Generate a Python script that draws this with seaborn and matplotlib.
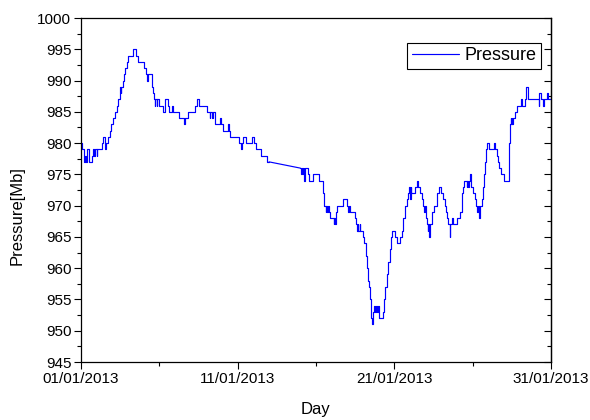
import pandas as pd
import matplotlib
matplotlib.use("Agg")
import matplotlib.pyplot as plt
import matplotlib.dates as mdates
from matplotlib.ticker import MultipleLocator
from matplotlib.lines import Line2D
import seaborn as sns

START = pd.Timestamp("2013-01-01 00:00")

# Logged pressure [Mb]: hour since start of month and the reading from that hour on
hours_a = [0, 2, 5, 6, 7, 9, 12, 17, 19, 20, 21, 24, 25, 32, 34, 36, 37, 38, 42, 44,
           46, 49, 52, 55, 57, 59, 60, 61, 62, 65, 66, 68, 71, 72, 80, 85, 88, 96, 100, 101,
           102, 108, 109, 111, 112, 113, 114, 116, 117, 119, 125, 129, 133, 135, 139, 141, 150, 158, 160, 164,
           174, 177, 181, 193, 197, 198, 200, 202, 205, 213, 214, 218, 225, 227, 229, 242, 245, 246, 248, 252,
           262, 265, 268, 276, 285, 288]
pressure_a = [980, 979, 977, 978, 977, 979, 977, 978, 979, 978, 979, 978, 979, 980, 981, 980, 979, 980, 981, 982,
              983, 984, 985, 986, 987, 988, 989, 988, 989, 990, 991, 992, 993, 994, 995, 994, 993, 992, 991, 990,
              991, 990, 989, 988, 987, 986, 987, 986, 987, 986, 985, 987, 986, 985, 986, 985, 984, 983, 984, 985,
              986, 987, 986, 985, 984, 985, 984, 985, 983, 984, 983, 982, 983, 982, 981, 980, 979, 980, 981, 980,
              981, 980, 979, 978, 977, 977]

# Logging resumes after a two-day outage
hours_b = [336, 337, 338, 340, 341, 342, 343, 348, 350, 356, 364, 371, 372, 373, 375, 376, 377, 378, 380, 382,
           387, 388, 389, 390, 391, 392, 401, 408, 409, 410, 412, 419, 421, 423, 424, 425, 427, 428, 432, 434,
           436, 438, 439, 441, 443, 444, 445, 446, 448, 449, 450, 452, 453, 455, 456, 462, 464, 466, 468, 470,
           473, 475, 477, 481, 484, 489, 491, 493, 494, 496, 497, 499, 501, 503, 504, 505, 506, 512, 514, 517,
           520, 522, 524, 526, 527, 528, 529, 530, 531, 532, 533, 534, 535, 537, 540, 545, 549, 552, 555, 558,
           559, 560, 562, 565, 566, 569, 570, 576, 580, 583, 585, 587, 591, 592, 593, 595, 596, 598, 600, 604,
           605, 607, 608, 609, 611, 614, 616, 617, 619, 620, 622, 625, 632, 634, 637, 639, 641, 644, 648, 655,
           656, 657, 658, 659, 660, 661, 662, 665, 668, 674, 676, 680, 682, 684, 685, 701, 702, 705, 708, 710,
           714, 716, 720]
pressure_b = [976, 975, 976, 975, 976, 974, 976, 975, 974, 975, 974, 972, 971, 970, 969, 970, 969, 970, 969, 968,
              967, 968, 967, 968, 969, 970, 971, 970, 969, 970, 969, 968, 967, 966, 967, 966, 967, 966, 965, 964,
              962, 960, 958, 957, 955, 953, 952, 951, 953, 954, 953, 954, 953, 954, 952, 953, 955, 957, 959, 961,
              963, 965, 966, 965, 964, 965, 966, 967, 968, 969, 970, 971, 972, 973, 971, 973, 972, 973, 974, 973,
              972, 971, 970, 969, 970, 969, 968, 967, 966, 967, 965, 966, 967, 969, 970, 972, 973, 972, 971, 970,
              969, 968, 967, 965, 967, 968, 967, 968, 969, 972, 973, 974, 973, 974, 973, 974, 975, 973, 972, 971,
              970, 969, 970, 968, 970, 971, 973, 975, 977, 979, 980, 979, 980, 979, 978, 977, 976, 975, 974, 977,
              980, 983, 984, 983, 984, 983, 984, 985, 986, 987, 986, 987, 989, 988, 987, 986, 988, 987, 986, 987,
              988, 987, 987]

tick_dates = ["2013-01-01", "2013-01-11", "2013-01-21", "2013-01-31"]
series_name = "Pressure"

sns.set_theme(style="ticks")
plt.rcParams["font.family"] = ["Liberation Sans", "DejaVu Sans"]

def frame(hours, values):
    return pd.DataFrame({"time": START + pd.to_timedelta(hours, unit="h"),
                         "pressure": values})

df_a = frame(hours_a, pressure_a)
df_b = frame(hours_b, pressure_b)
# straight join across the missing days
df_gap = pd.concat([df_a.tail(1), df_b.head(1)], ignore_index=True)

fig = plt.figure(figsize=(5.9, 4.2), dpi=100)
ax = fig.add_axes([81 / 590, 1 - 362 / 420, 470 / 590, 344 / 420])

line_kw = dict(color="#0000FF", linewidth=0.85)
sns.lineplot(data=df_a, x="time", y="pressure", ax=ax, drawstyle="steps-post",
             estimator=None, **line_kw)
sns.lineplot(data=df_gap, x="time", y="pressure", ax=ax, estimator=None, **line_kw)
sns.lineplot(data=df_b, x="time", y="pressure", ax=ax, drawstyle="steps-post",
             estimator=None, **line_kw)

ax.set_xlim(START, START + pd.Timedelta(days=30))
ax.set_ylim(945, 1000)

ticks = pd.to_datetime(tick_dates)
ax.set_xticks(ticks)
ax.xaxis.set_major_formatter(mdates.DateFormatter("%d/%m/%Y"))
ax.set_xticks(ticks[:-1] + pd.Timedelta(days=5), minor=True)
ax.yaxis.set_major_locator(MultipleLocator(5))
ax.yaxis.set_minor_locator(MultipleLocator(2.5))

ax.tick_params(axis="both", which="major", direction="out", length=5, width=0.8,
               labelsize=11, colors="black", pad=2)
ax.tick_params(axis="both", which="minor", direction="out", length=3, width=0.8,
               colors="black")

# inward ticks mirrored on the right-hand spine
right = ax.secondary_yaxis("right")
right.yaxis.set_major_locator(MultipleLocator(5))
right.yaxis.set_minor_locator(MultipleLocator(2.5))
right.tick_params(which="major", direction="in", length=5, width=0.8, labelright=False,
                  colors="black")
right.tick_params(which="minor", direction="in", length=3, width=0.8, colors="black")

for side in ["top", "right", "bottom", "left"]:
    ax.spines[side].set_visible(True)
    ax.spines[side].set_color("black")
    ax.spines[side].set_linewidth(0.9)
right.spines["right"].set_linewidth(0.9)
right.spines["right"].set_color("black")

ax.set_xlabel("Day", fontsize=12, labelpad=12, color="black")
ax.set_ylabel("Pressure[Mb]", fontsize=12, color="black")
ax.yaxis.set_label_coords(-0.12, 0.427)

handle = Line2D([], [], **line_kw)
leg = ax.legend([handle], [series_name], loc="upper right",
                bbox_to_anchor=(0.978, 0.928), fontsize=13, frameon=True,
                fancybox=False, framealpha=1, edgecolor="black",
                handlelength=2.6, handletextpad=0.3, borderpad=0.25,
                borderaxespad=0)
leg.get_frame().set_linewidth(0.8)
for txt in leg.get_texts():
    txt.set_color("black")

fig.savefig("out.png", dpi=100, facecolor="white")
